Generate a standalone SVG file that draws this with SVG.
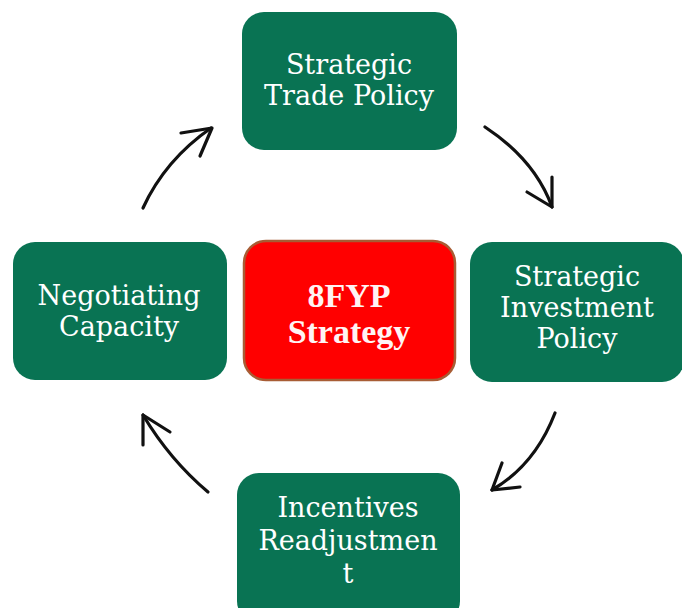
<svg xmlns="http://www.w3.org/2000/svg" width="682" height="608" viewBox="0 0 682 608">
  <style>
    .box { fill: #097353; }
    .core { fill: #ff0000; stroke: #a85c34; stroke-width: 2.5; }
    .lbl { font-family: "DejaVu Serif", "Liberation Serif", serif; font-size: 27px; fill: #ffffff; text-anchor: middle; }
    .core-lbl { font-family: "Liberation Serif", "DejaVu Serif", serif; font-weight: bold; font-size: 34px; fill: #fff4f4; text-anchor: middle; }
    .arrow { fill: none; stroke: #111111; stroke-width: 3.2; stroke-linecap: round; stroke-linejoin: round; }
  </style>
  <rect width="682" height="608" fill="#ffffff"/>

  <g id="connectors">
    <!-- Negotiating Capacity -> Strategic Trade Policy -->
    <path class="arrow" d="M143,208 Q165,160 211,128"/>
    <path class="arrow" d="M181,133 L212,128 L200,156"/>
    <!-- Strategic Trade Policy -> Strategic Investment Policy -->
    <path class="arrow" d="M485,127 Q535,160 552,207"/>
    <path class="arrow" d="M527,192 L552,207 L552,177"/>
    <!-- Strategic Investment Policy -> Incentives Readjustment -->
    <path class="arrow" d="M555,413 Q535,465 492,490"/>
    <path class="arrow" d="M502,463 L492,490 L520,487"/>
    <!-- Incentives Readjustment -> Negotiating Capacity -->
    <path class="arrow" d="M208,492 Q170,460 143,415"/>
    <path class="arrow" d="M170,432 L143,415 L143,445"/>
  </g>

  <g id="node-trade">
    <rect class="box" x="242" y="12" width="215" height="138" rx="22"/>
    <text class="lbl" x="349" y="74">Strategic</text>
    <text class="lbl" x="349" y="105">Trade Policy</text>
  </g>

  <g id="node-core">
    <rect class="core" x="244" y="241" width="211" height="139" rx="22"/>
    <text class="core-lbl" x="349" y="307">8FYP</text>
    <text class="core-lbl" x="349" y="343">Strategy</text>
  </g>

  <g id="node-investment">
    <rect class="box" x="470" y="242" width="214" height="140" rx="22"/>
    <text class="lbl" x="577" y="286">Strategic</text>
    <text class="lbl" x="577" y="317">Investment</text>
    <text class="lbl" x="577" y="348">Policy</text>
  </g>

  <g id="node-negotiating">
    <rect class="box" x="13" y="242" width="214" height="138" rx="22"/>
    <text class="lbl" x="119" y="305">Negotiating</text>
    <text class="lbl" x="119" y="336">Capacity</text>
  </g>

  <g id="node-incentives">
    <rect class="box" x="237" y="473" width="223" height="150" rx="22"/>
    <text class="lbl" x="348" y="517">Incentives</text>
    <text class="lbl" x="348" y="550">Readjustmen</text>
    <text class="lbl" x="348" y="583">t</text>
  </g>
</svg>
